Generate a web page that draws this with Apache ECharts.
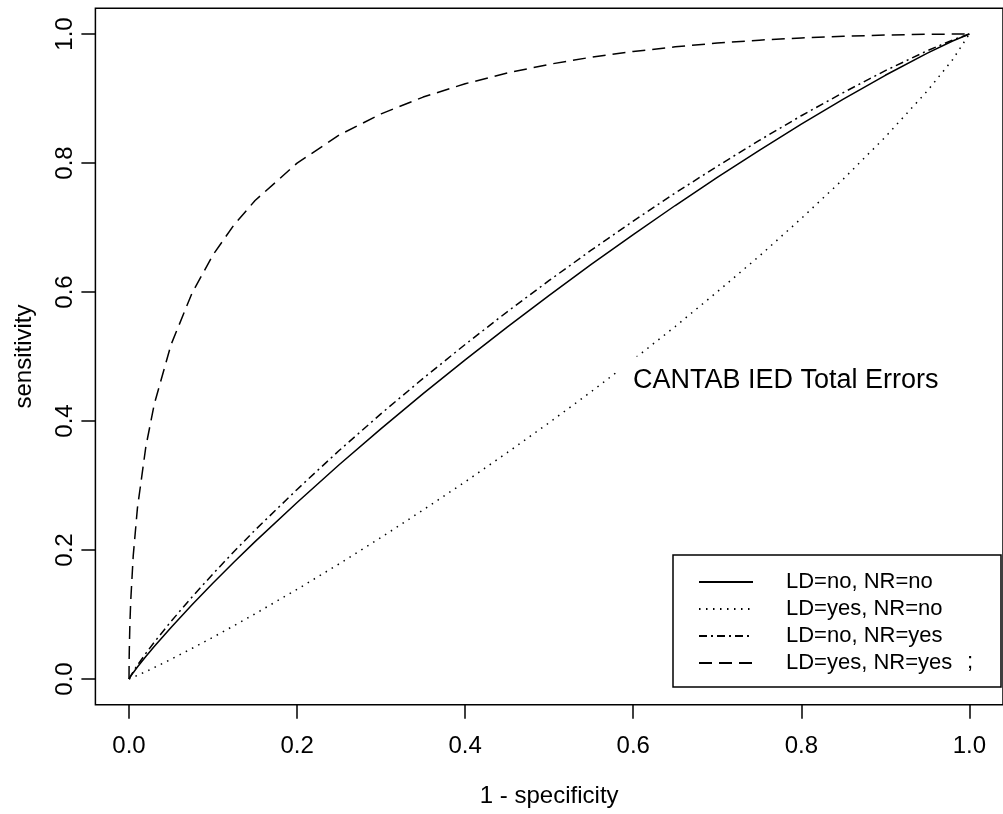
<!DOCTYPE html>
<html><head><meta charset="utf-8">
<script src="https://cdn.jsdelivr.net/npm/echarts@6/dist/echarts.min.js"></script>
<style>html,body{margin:0;padding:0;background:#fff}#c{width:1003px;height:814px}</style>
</head><body><div id="c"></div>
<script>
// 1 - specificity (false positive rate) sample points
const fpr = [0, 0.0001, 0.0003, 0.001, 0.002, 0.005, 0.01, 0.02, 0.03, 0.05, 0.075, 0.1, 0.125, 0.15, 0.2, 0.25, 0.3, 0.35, 0.4, 0.45, 0.5, 0.55, 0.6, 0.65, 0.7, 0.75, 0.8, 0.85, 0.9, 0.95, 0.98, 1];
// sensitivity values
const sensNoNo   = [0, 0.0003, 0.0007, 0.0022, 0.0042, 0.0098, 0.0185, 0.0348, 0.0504, 0.080, 0.1151, 0.1487, 0.1814, 0.213, 0.2736, 0.3321, 0.3882, 0.4424, 0.4948, 0.5454, 0.5948, 0.6429, 0.689, 0.7341, 0.7776, 0.8197, 0.8604, 0.8991, 0.936, 0.9703, 0.9891, 1];
const sensYesNo  = [0, 0.0001, 0.0002, 0.0005, 0.001, 0.0027, 0.0056, 0.0115, 0.0177, 0.0306, 0.0474, 0.0648, 0.0827, 0.1011, 0.139, 0.1785, 0.2195, 0.2621, 0.3057, 0.3509, 0.3974, 0.4455, 0.4952, 0.5465, 0.6003, 0.6556, 0.714, 0.7751, 0.8404, 0.9118, 0.9602, 1];
const sensNoYes  = [0, 0.0003, 0.0009, 0.0026, 0.005, 0.0114, 0.0214, 0.0397, 0.0569, 0.0893, 0.1271, 0.1631, 0.1977, 0.2309, 0.2939, 0.3542, 0.4114, 0.4661, 0.5187, 0.5693, 0.6179, 0.6648, 0.7099, 0.7535, 0.795, 0.835, 0.8733, 0.9092, 0.9432, 0.9741, 0.9907, 1];
const sensYesYes = [0, 0.0224, 0.0424, 0.0832, 0.1202, 0.1908, 0.265, 0.360, 0.4258, 0.5183, 0.5983, 0.6576, 0.7042, 0.7418, 0.7998, 0.8433, 0.8762, 0.9022, 0.9229, 0.9395, 0.953, 0.9640, 0.9729, 0.9801, 0.9859, 0.9905, 0.9939, 0.9965, 0.9984, 0.9995, 0.9999, 1];

const seriesNames = ['LD=no, NR=no', 'LD=yes, NR=no', 'LD=no, NR=yes', 'LD=yes, NR=yes'];
const tickValues = [0, 0.2, 0.4, 0.6, 0.8, 1.0];
const tickLabels = ['0.0', '0.2', '0.4', '0.6', '0.8', '1.0'];
const xTitle = '1 - specificity';
const yTitle = 'sensitivity';
const annotation = 'CANTAB IED Total Errors';

const FONT = "'Liberation Sans', Arial, Helvetica, sans-serif";
const lineTypes = ['solid', [1.5, 5.5], [8, 4, 2, 4], [13, 7]];
const allSens = [sensNoNo, sensYesNo, sensNoYes, sensYesYes];

const chart = echarts.init(document.getElementById('c'), null, {renderer: 'canvas'});

function labelFor(v) {
  const i = tickValues.findIndex(t => Math.abs(t - v) < 1e-9);
  return i >= 0 ? tickLabels[i] : '';
}

const axisCommon = {
  type: 'value', min: -0.04, max: 1.04,
  axisLine: {show: false, onZero: false},
  splitLine: {show: false},
  axisTick: {show: true, length: 14, inside: false, customValues: tickValues, lineStyle: {color: '#000', width: 1.5}},
  nameLocation: 'middle',
  nameTextStyle: {fontFamily: FONT, fontSize: 24, color: '#000'}
};

chart.setOption({
  animation: false,
  backgroundColor: '#fff',
  grid: {left: 95.4, top: 8.2, right: -9, bottom: 109.2, show: true, borderColor: '#000', borderWidth: 1.5, backgroundColor: 'transparent'},
  xAxis: Object.assign({}, axisCommon, {
    name: xTitle, nameGap: 80,
    axisLabel: {customValues: tickValues, formatter: labelFor, margin: 30, fontFamily: FONT, fontSize: 24, color: '#000'}
  }),
  yAxis: Object.assign({}, axisCommon, {
    name: yTitle, nameGap: 59,
    axisLabel: {customValues: tickValues, formatter: labelFor, rotate: 90, margin: 18, fontFamily: FONT, fontSize: 24, color: '#000'}
  }),
  legend: {
    orient: 'vertical', left: 698, top: 571, padding: 0,
    itemWidth: 54, itemHeight: 20, itemGap: 5,
    selectedMode: false,
    data: seriesNames,
    formatter: name => '{t|' + name + '}',
    textStyle: {color: '#000', fontFamily: FONT, fontSize: 22,
      rich: {t: {color: '#000', fontFamily: FONT, fontSize: 22, lineHeight: 20, padding: [0, 0, 0, 28]}}}
  },
  graphic: [
    {type: 'rect', z: 50, shape: {x: 673, y: 555, width: 328, height: 132},
     style: {fill: 'rgba(0,0,0,0)', stroke: '#000', lineWidth: 1.5}},
    {type: 'text', z: 100, x: 617, y: 381,
     style: {text: annotation, fontFamily: FONT, fontSize: 27, fill: '#000', verticalAlign: 'middle',
             backgroundColor: '#fff', padding: [14, 4, 8, 16]}},
    {type: 'text', z: 100, x: 967, y: 662,
     style: {text: ';', fontFamily: FONT, fontSize: 22, fill: '#000', verticalAlign: 'middle'}}
  ],
  series: seriesNames.map((name, k) => ({
    name: name, type: 'line', symbol: 'none', smooth: false,
    itemStyle: {color: 'rgba(0,0,0,0)'},
    lineStyle: {color: '#000', width: 1.5, type: lineTypes[k]},
    data: fpr.map((x, i) => [x, allSens[k][i]])
  }))
});
</script>
</body></html>
